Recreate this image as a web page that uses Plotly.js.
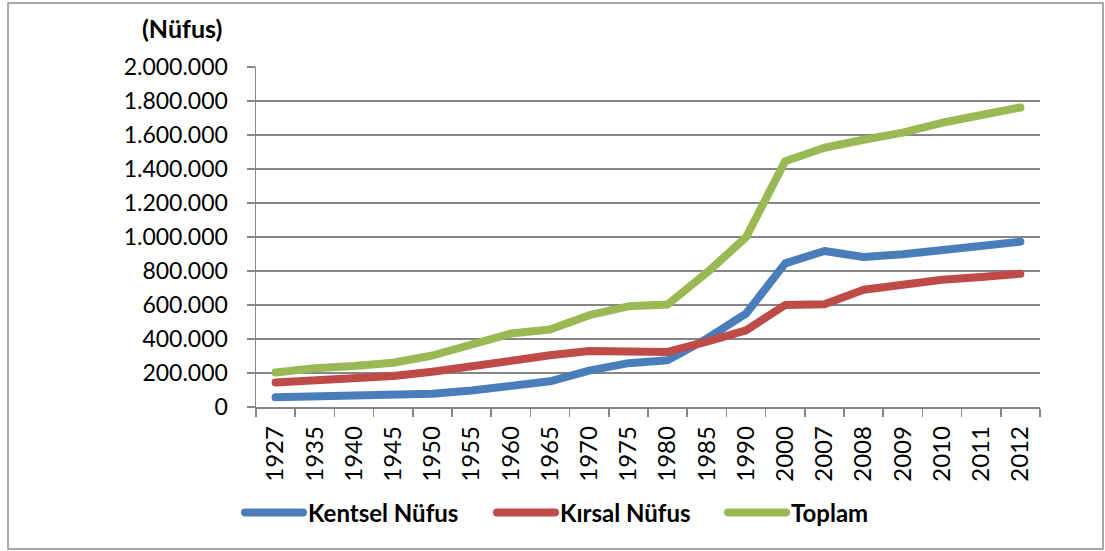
<!DOCTYPE html>
<html>
<head>
<meta charset="utf-8">
<script src="https://cdn.plot.ly/plotly-3.0.1.min.js"></script>
<style>
html,body{margin:0;padding:0;background:#fff;}
#chart{width:1105px;height:551px;}
#chart path.js-line, #chart .legendlines path{stroke-linecap:round;stroke-linejoin:round;}
</style>
</head>
<body>
<div id="chart"></div>
<script>
const years = ['1927','1935','1940','1945','1950','1955','1960','1965','1970','1975','1980','1985','1990','2000','2007','2008','2009','2010','2011','2012'];
const kentsel = [57000,60000,65000,68000,78000,97000,124000,151000,214000,258000,275000,402000,549000,845000,918000,882000,898000,926000,951000,972000];
const kirsal  = [144000,158000,166000,182000,207000,240000,276000,304000,329000,330000,324000,385000,451000,600000,604000,690000,722000,749000,765000,784000];
const toplam  = [203000,228000,241000,260000,303000,364000,432000,456000,540000,592000,603000,790000,998000,1446000,1525000,1572000,1614000,1672000,1716000,1762000];
const seriesNames = ['Kentsel Nüfus','Kırsal Nüfus','Toplam'];
const yTitle = '(Nüfus)';

const colors = ['#4A7EBB','#BE4B48','#98B954'];
const fontFam = 'Lato, "DejaVu Sans", sans-serif';
const gridCol = '#868686';

const traces = [kentsel, kirsal, toplam].map((vals, i) => ({
  type: 'scatter', mode: 'lines', x: years, y: vals, name: seriesNames[i],
  line: {color: colors[i], width: 8},
  legend: i === 0 ? 'legend' : 'legend' + (i + 1)
}));

const W = 1105, H = 551, L = 256, R = 65, T = 67, B = 144;
const pw = W - L - R, ph = H - T - B;
function px(x){ return (x - L) / pw; }
function py(y){ return (H - B - y) / ph; }

const legBase = {orientation: 'h', xanchor: 'left', yanchor: 'middle', y: py(513),
  font: {family: fontFam, size: 24, color: '#000', weight: 'bold'},
  itemwidth: 58, bgcolor: 'rgba(0,0,0,0)', borderwidth: 0};

const layout = {
  width: W, height: H,
  margin: {l: L, r: R, t: T, b: B},
  paper_bgcolor: '#fff', plot_bgcolor: '#fff',
  separators: ',.',
  showlegend: true,
  font: {family: fontFam, color: '#000'},
  xaxis: {
    type: 'category', range: [-0.5, years.length - 0.5],
    showgrid: false, showline: true, linecolor: gridCol, linewidth: 1.5,
    ticks: 'outside', tickson: 'boundaries', ticklen: 8, tickcolor: gridCol, tickwidth: 1.5,
    ticklabelstandoff: 8,
    tickangle: -90, tickfont: {family: fontFam, size: 24, color: '#000'}, zeroline: false
  },
  yaxis: {
    range: [0, 2000000], dtick: 200000, tick0: 0, tickformat: ',d',
    showgrid: true, gridcolor: gridCol, gridwidth: 1.5,
    showline: true, linecolor: gridCol, linewidth: 1.5, zeroline: false,
    ticks: 'outside', ticklen: 8, tickcolor: gridCol, tickwidth: 1.5,
    ticklabelstandoff: 14,
    tickfont: {family: fontFam, size: 23, color: '#000'}
  },
  legend: Object.assign({}, legBase, {x: px(240)}),
  legend2: Object.assign({}, legBase, {x: px(492)}),
  legend3: Object.assign({}, legBase, {x: px(723)}),
  annotations: [{
    text: '<b>' + yTitle + '</b>', xref: 'paper', yref: 'paper', x: px(182), y: py(28),
    xanchor: 'center', yanchor: 'middle', showarrow: false,
    font: {family: fontFam, size: 25, color: '#000'}
  }],
  shapes: [{type: 'rect', xref: 'paper', yref: 'paper', x0: px(8), x1: px(1103), y0: py(549), y1: py(3),
    line: {color: '#8c8c8c', width: 1.5}, layer: 'below'}]
};

Plotly.newPlot('chart', traces, layout, {displayModeBar: false, staticPlot: true});
</script>
</body>
</html>
